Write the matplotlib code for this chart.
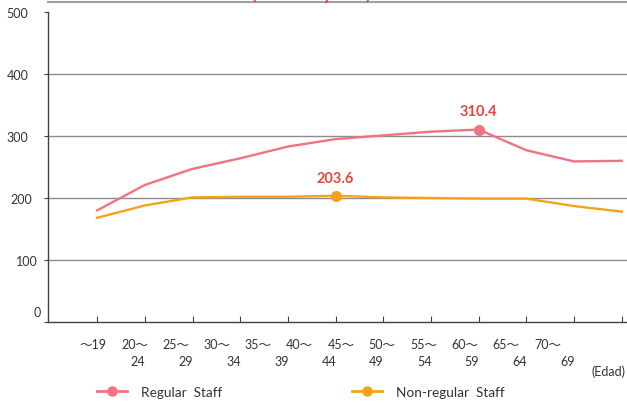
import numpy as np
import matplotlib
matplotlib.use("Agg")
import matplotlib.pyplot as plt
from matplotlib.lines import Line2D
from matplotlib.transforms import ScaledTranslation, blended_transform_factory

plt.rcParams['font.family'] = ['Lato', 'Noto Sans CJK JP', 'DejaVu Sans']

# data (thousand yen by age group)
row1_labels = ["〜19", "20〜", "25〜", "30〜", "35〜", "40〜",
               "45〜", "50〜", "55〜", "60〜", "65〜", "70〜"]
row2_labels = ["24", "29", "34", "39", "44", "49", "54", "59", "64", "69"]
regular = [180, 221, 247, 264, 283, 295, 301, 307, 310.4, 277, 259, 260]
non_regular = [168, 188, 201, 202, 202, 203.6, 201, 200, 199, 199, 187, 178]
y_ticks = [0, 100, 200, 300, 400, 500]
grid_vals = [100, 200, 300, 400]

red = '#F07381'
orange = '#F5A21B'
label_red = '#E8453C'
text_col = '#333333'

fig = plt.figure(figsize=(6.27, 4.06), dpi=100)
ax = fig.add_axes([48/627, 83/406, 579/627, 310/406])

x = np.arange(len(regular))
ax.plot(x, regular, color=red, lw=1.7, zorder=3)
ax.plot(x, non_regular, color=orange, lw=1.7, zorder=3)

# highlight the peak of each series
for series, col in [(regular, red), (non_regular, orange)]:
    i = int(np.argmax(series))
    ax.plot(x[i], series[i], 'o', color=col, ms=7, zorder=4)
    ax.annotate(f"{series[i]:.1f}", (x[i], series[i]), xytext=(0, 13),
                textcoords='offset points', ha='center', va='center',
                color=label_red, fontsize=10.5, fontweight='bold')

ax.set_xlim(-1.03, 11.11)
ax.set_ylim(0, 500)

for v in grid_vals:
    ax.axhline(v, color='#8c8c8c', lw=1.0, zorder=1)
ax.axhline(516, color='#a0a0a0', lw=1.5, clip_on=False)

for s in ['top', 'right']:
    ax.spines[s].set_visible(False)
for s in ['left', 'bottom']:
    ax.spines[s].set_color('#404040')
    ax.spines[s].set_linewidth(1.0)

ax.set_xticks(x)
ax.set_xticklabels([])
ax.tick_params(axis='x', direction='in', length=4, color='#404040')

ax.set_yticks(y_ticks)
ax.set_yticklabels([str(v) for v in y_ticks], fontsize=9, color=text_col)
ax.tick_params(axis='y', direction='out', length=3, pad=11, color='#404040')
shifts = {0: (12, 11), 100: (9, 0), 200: (4, 0)}
for v, lab in zip(y_ticks, ax.get_yticklabels()):
    dx, dy = shifts.get(v, (0, 0))
    lab.set_transform(lab.get_transform() + ScaledTranslation(dx/100, dy/100, fig.dpi_scale_trans))

# staggered age-group labels
tr = blended_transform_factory(ax.transData, ax.transAxes)
for i, lab in enumerate(row1_labels):
    ax.text(-0.084 + 0.866*i, -0.071, lab, transform=tr, ha='center', va='center',
            fontsize=9, color=text_col)
for j, lab in enumerate(row2_labels, start=1):
    ax.text(j - 0.14, -0.126, lab, transform=tr, ha='center', va='center',
            fontsize=9, color=text_col)
ax.text(10.72, -0.158, "(Edad)", transform=tr, ha='center', va='center',
        fontsize=9, color=text_col)

# title, cut off at the top edge as in the reference
fig.text(311/627, 1.0, "(Miles de yenes)", ha='center', va='baseline',
         color='#E8405A', fontsize=12, fontweight='bold')

handles = [Line2D([], [], color=red, lw=2, marker='o', ms=6.5),
           Line2D([], [], color=orange, lw=2, marker='o', ms=6.5)]
fig.legend(handles, ["Regular  Staff", "Non-regular  Staff"], ncol=2,
           loc='center left', bbox_to_anchor=(97/627, 1 - 393/406),
           frameon=False, fontsize=9.8, handlelength=2.2, handletextpad=1.0,
           columnspacing=9.6, borderpad=0, borderaxespad=0, labelcolor=text_col)

fig.savefig("out.png", dpi=100)
